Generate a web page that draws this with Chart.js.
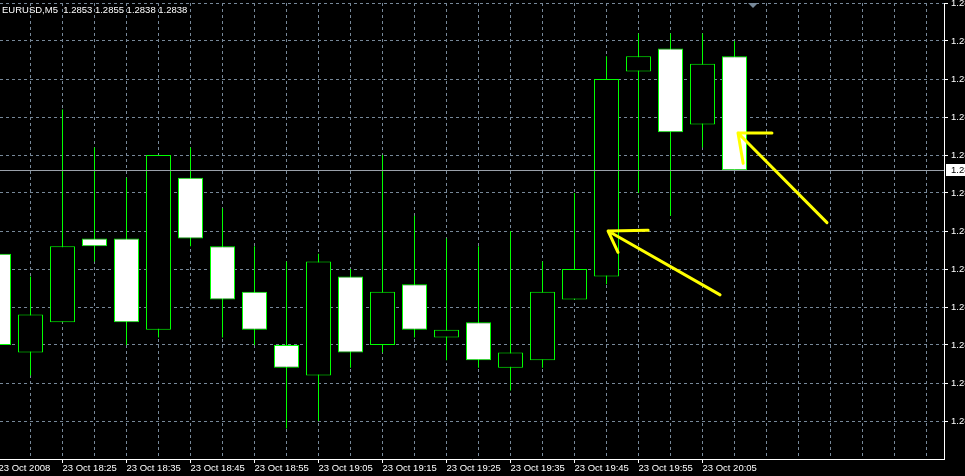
<!DOCTYPE html>
<html>
<head>
<meta charset="utf-8">
<title>EURUSD,M5</title>
<script src="https://cdn.jsdelivr.net/npm/chart.js@4.4.1/dist/chart.umd.min.js"></script>
<style>
  html, body { margin: 0; padding: 0; background: #000; overflow: hidden; }
  #wrap { width: 1000px; height: 476px; }
  canvas { display: block; }
</style>
</head>
<body>
<div id="wrap"><canvas id="chart" width="1000" height="476"></canvas></div>
<script>
/* EURUSD M5 candles, 23 Oct 2008 (MT4 style, green on black) */
const symbol = 'EURUSD';
const period = 'M5';
const day = '23 Oct';
const year = '2008';

const times  = ['18:15','18:20','18:25','18:30','18:35','18:40','18:45','18:50','18:55','19:00','19:05','19:10',
                '19:15','19:20','19:25','19:30','19:35','19:40','19:45','19:50','19:55','20:00','20:05','20:10'];
const opens  = [1.2827,1.2814,1.2818,1.2829,1.2829,1.2817,1.2837,1.2828,1.2822,1.2815,1.2811,1.2824,
                1.2815,1.2823,1.2816,1.2818,1.2812,1.2813,1.2821,1.2824,1.2851,1.2854,1.2844,1.2853];
const highs  = [1.2828,1.2824,1.2846,1.2841,1.2837,1.2840,1.2841,1.2833,1.2828,1.2826,1.2827,1.2825,
                1.2840,1.2832,1.2829,1.2828,1.2830,1.2826,1.2835,1.2853,1.2856,1.2856,1.2856,1.2855];
const lows   = [1.2813,1.2811,1.2818,1.2826,1.2815,1.2816,1.2828,1.2816,1.2815,1.2804,1.2805,1.2812,
                1.2814,1.2816,1.2813,1.2812,1.2809,1.2812,1.2821,1.2823,1.2835,1.2832,1.2841,1.2838];
const closes = [1.2815,1.2819,1.2828,1.2828,1.2818,1.2840,1.2829,1.2821,1.2817,1.2812,1.2826,1.2814,
                1.2822,1.2817,1.2817,1.2813,1.2814,1.2822,1.2825,1.2850,1.2853,1.2843,1.2852,1.2838];

// price grid levels (right scale)
const priceLevels = [1.2805,1.2810,1.2815,1.2820,1.2825,1.2830,1.2835,1.2840,1.2845,1.2850,1.2855,1.2860];

// hand drawn yellow arrows, [slot, price]
const arrowTails = [[22.55, 1.28216], [25.89, 1.28311]];
const arrowTips  = [[19.05, 1.28300], [23.11, 1.28429]];
const arrowBars  = [[20.30, 1.28301], [24.17, 1.28429]];
const arrowLegs  = [[19.36, 1.28272], [23.27, 1.28389]];

const shiftSlot = 23.58; // chart shift marker

const GRID = '#778899';
const GREEN = '#00ff00';
const FONT = { family: 'Liberation Sans', size: 9.5 };

// slots shown on the time axis (candles + empty space to the right)
const slots = [];
for (let k = 0; k < 30; k++) slots.push(k);

function slotLabel(k) {
  if (k >= times.length || k % 2 !== 0) return '';
  return k === 0 ? day + ' ' + year : day + ' ' + times[k];
}

const bodies = times.map((t, i) => ({ x: i, y: [Math.min(opens[i], closes[i]), Math.max(opens[i], closes[i])] }));
const wicks = times.map((t, i) => ({ x: i, y: [lows[i], highs[i]] }));
const bodyFill = times.map((t, i) => closes[i] < opens[i] ? '#ffffff' : '#000000');

const overlay = {
  id: 'mt4Overlay',
  afterDatasetsDraw(chart) {
    const { ctx, chartArea: a, scales: { x, y } } = chart;
    const last = closes[closes.length - 1];
    const py = Math.round(y.getPixelForValue(last)) + 0.5;
    ctx.save();
    // bid line
    ctx.strokeStyle = '#9aa1aa';
    ctx.lineWidth = 1;
    ctx.beginPath(); ctx.moveTo(a.left, py); ctx.lineTo(a.right, py); ctx.stroke();

    // arrows
    const P = p => [x.getPixelForValue(p[0]), y.getPixelForValue(p[1])];
    ctx.strokeStyle = '#ffff00';
    ctx.lineWidth = 3;
    ctx.lineCap = 'round';
    ctx.lineJoin = 'round';
    arrowTips.forEach((tip, i) => {
      const t = P(tip), s = P(arrowTails[i]), b = P(arrowBars[i]), l = P(arrowLegs[i]);
      ctx.beginPath();
      ctx.moveTo(s[0], s[1]); ctx.lineTo(t[0], t[1]);
      ctx.moveTo(t[0], t[1]); ctx.lineTo(b[0], b[1]);
      ctx.moveTo(t[0], t[1]); ctx.lineTo(l[0], l[1]);
      ctx.stroke();
    });
    ctx.restore();
  },
  afterDraw(chart) {
    const { ctx, chartArea: a, scales: { x, y } } = chart;
    const n = closes.length - 1;
    const last = closes[n];
    const py = Math.round(y.getPixelForValue(last));
    ctx.save();
    // current price tag
    ctx.fillStyle = '#ffffff';
    ctx.fillRect(a.right + 2, py - 6, 60, 12);
    ctx.fillStyle = '#000000';
    ctx.font = FONT.size + 'px "' + FONT.family + '"';
    ctx.textBaseline = 'middle';
    ctx.textAlign = 'left';
    ctx.fillText(last.toFixed(4), a.right + 7, py + 0.5);

    // header
    ctx.fillStyle = '#ffffff';
    const head = symbol + ',' + period + '  ' + [opens[n], highs[n], lows[n], closes[n]].map(v => v.toFixed(4)).join(' ');
    ctx.fillText(head, 2, 10.5);

    // shift marker
    const sx = Math.round(x.getPixelForValue(shiftSlot));
    ctx.fillStyle = GRID;
    ctx.beginPath();
    ctx.moveTo(sx - 5, a.top); ctx.lineTo(sx + 5, a.top); ctx.lineTo(sx, a.top + 5);
    ctx.closePath(); ctx.fill();
    ctx.restore();
  }
};

Chart.defaults.font.family = FONT.family;
Chart.defaults.font.size = FONT.size;

new Chart(document.getElementById('chart'), {
  type: 'bar',
  data: {
    datasets: [
      { label: 'body', data: bodies, backgroundColor: bodyFill, borderColor: GREEN, borderWidth: 1,
        borderSkipped: false, barThickness: 25, grouped: false, inflateAmount: 0 },
      { label: 'wick', data: wicks, backgroundColor: GREEN, borderWidth: 0,
        barThickness: 1, grouped: false, inflateAmount: 0 }
    ]
  },
  options: {
    responsive: false,
    animation: false,
    events: [],
    layout: { padding: { top: 3, left: 0, right: 0, bottom: 0 } },
    plugins: { legend: { display: false }, tooltip: { enabled: false } },
    scales: {
      x: {
        type: 'linear', position: 'bottom', offset: false,
        min: 0.046875, max: 29.546875,
        afterBuildTicks: s => { s.ticks = slots.map(v => ({ value: v })); },
        afterFit: s => { s.height = 17; s.paddingLeft = 0; s.paddingRight = 0; },
        grid: {
          offset: false, color: GRID, lineWidth: 1, tickLength: 4,
          tickColor: c => (c.tick && slotLabel(c.tick.value)) ? '#ffffff' : 'rgba(0,0,0,0)'
        },
        border: { color: '#ffffff', width: 1, dash: [3, 3] },
        ticks: {
          color: '#ffffff', align: 'start', autoSkip: false, maxRotation: 0, minRotation: 0, padding: 0,
          callback: v => slotLabel(v)
        }
      },
      y: {
        type: 'linear', position: 'right',
        min: 1.2800, max: 1.2860,
        afterBuildTicks: s => { s.ticks = priceLevels.map(v => ({ value: v })); },
        afterFit: s => { s.width = 56; s.paddingTop = 0; s.paddingBottom = 0; },
        grid: { color: GRID, lineWidth: 1, tickLength: 4, tickColor: '#ffffff' },
        border: { color: '#ffffff', width: 1, dash: [3, 3] },
        ticks: { color: '#ffffff', padding: 3, callback: v => v.toFixed(4) }
      }
    }
  },
  plugins: [overlay]
});
</script>
</body>
</html>
